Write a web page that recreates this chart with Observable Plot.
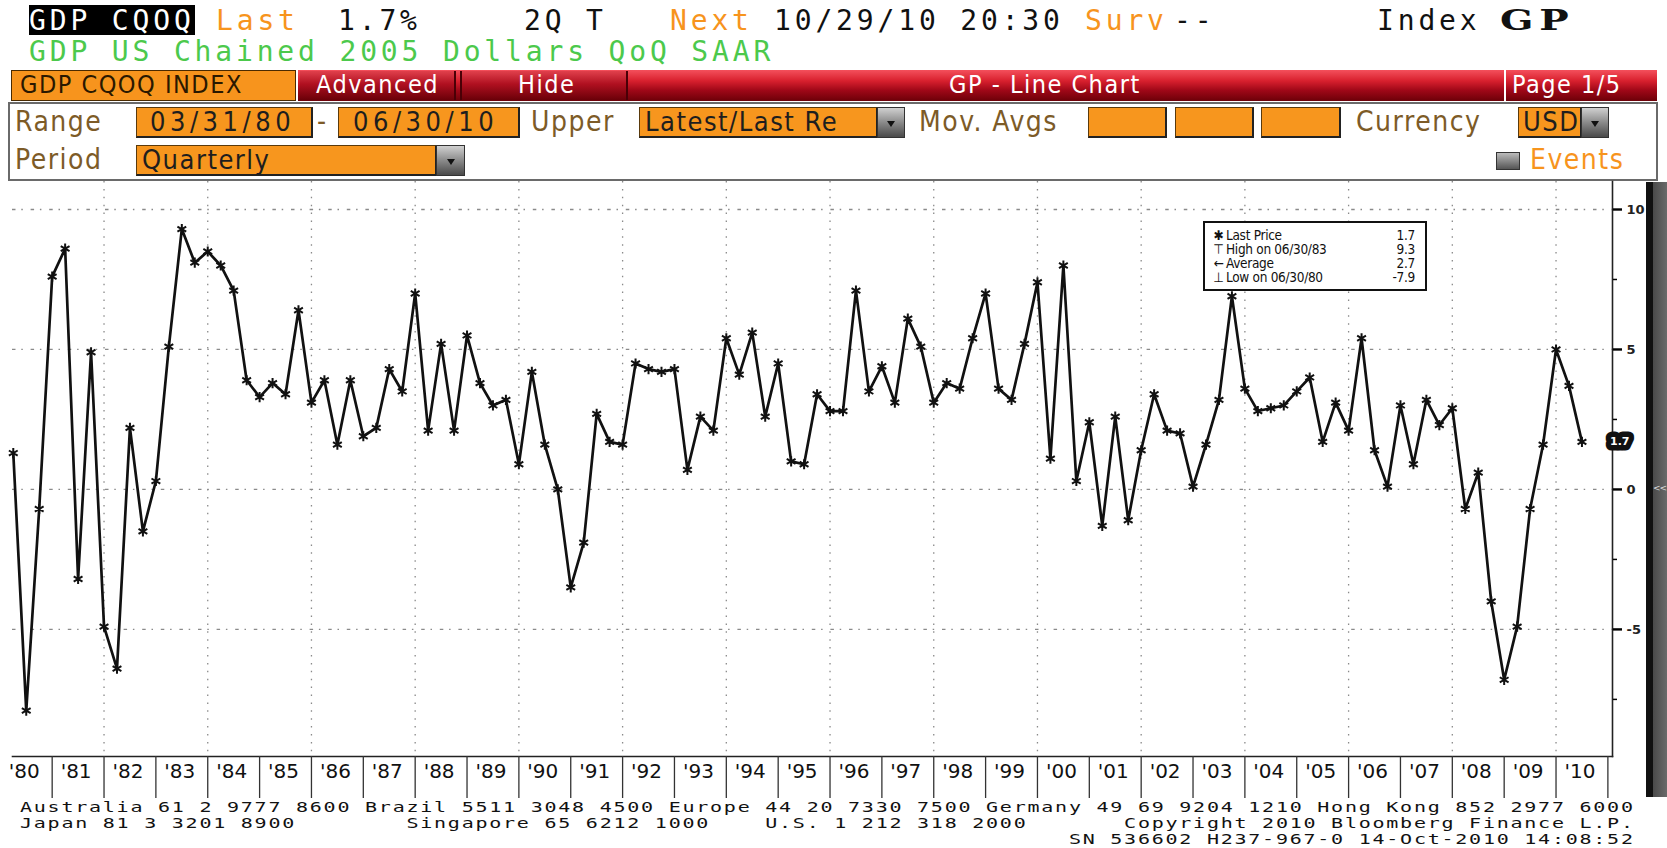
<!DOCTYPE html>
<html><head><meta charset="utf-8">
<script src="https://cdn.jsdelivr.net/npm/d3@7"></script>
<script src="https://cdn.jsdelivr.net/npm/@observablehq/plot@0.6"></script>
<style>
body{margin:0;background:#fff;}
#page{position:relative;width:1667px;height:848px;overflow:hidden;background:#fff;font-family:"DejaVu Sans",sans-serif;}
.a{position:absolute;white-space:pre;}
.mono{font-family:"DejaVu Sans Mono",monospace;font-size:28px;line-height:30px;letter-spacing:3.84px;}
.or{color:#f7941d;}
.lbl{font-family:"DejaVu Sans Condensed","DejaVu Sans",sans-serif;font-size:28px;line-height:30px;letter-spacing:1.5px;color:#7d5b27;}
.box{position:absolute;background:#f7961e;border:1px solid #5a3a0c;border-right:2px solid #222;border-bottom:2px solid #222;box-sizing:border-box;}
.boxt{font-family:"DejaVu Sans Condensed","DejaVu Sans",sans-serif;font-size:27px;line-height:28px;letter-spacing:4.5px;color:#1e1e1e;white-space:pre;position:absolute;top:0px;}
.dd{position:absolute;background:linear-gradient(#d0d0d0,#8a8a8a 50%,#4a4a4a);box-sizing:border-box;border:1px solid #333;}
.dd::after{content:"";position:absolute;left:50%;top:50%;margin-left:-4px;margin-top:-2px;border-left:4px solid transparent;border-right:4px solid transparent;border-top:6px solid #111;}
.bar{font-family:"DejaVu Sans Condensed","DejaVu Sans",sans-serif;font-size:25px;line-height:28px;letter-spacing:1.5px;}
.foot{font-family:"DejaVu Sans Mono",monospace;font-size:20px;line-height:20px;letter-spacing:1.76px;color:#111;transform:scaleY(0.72);transform-origin:0 0;}
#legend{position:absolute;left:1203px;top:221px;width:224px;height:70px;border:2px solid #111;background:#fff;box-sizing:border-box;font-family:"DejaVu Sans Condensed","DejaVu Sans",sans-serif;font-size:13.5px;color:#111;}
#legend .row{position:absolute;left:6px;right:10px;height:14px;line-height:14px;letter-spacing:-0.3px;}
#legend .sym{display:inline-block;width:15px;text-align:center;}
#legend .val{position:absolute;right:0;top:0;}
</style></head><body>
<div id="page">
  <!-- row 1 -->
  <div class="a" style="left:29px;top:5px;width:166px;height:30px;background:#000"></div>
  <div class="a mono" style="left:29px;top:6px;color:#fff">GDP CQOQ</div>
  <div class="a mono or" style="left:216px;top:6px">Last</div>
  <div class="a mono" style="left:338px;top:6px;color:#111">1.7%</div>
  <div class="a mono" style="left:524px;top:6px;color:#111">2Q T</div>
  <div class="a mono or" style="left:670px;top:6px">Next</div>
  <div class="a mono" style="left:774px;top:6px;color:#111">10/29/10 20:30</div>
  <div class="a mono or" style="left:1085px;top:6px">Surv</div>
  <div class="a mono" style="left:1174px;top:6px;color:#111">--</div>
  <div class="a mono" style="left:1377px;top:6px;color:#111">Index</div>
  <div class="a" style="left:1500px;top:6px;font-family:'DejaVu Serif';font-weight:bold;font-size:27px;line-height:30px;letter-spacing:4px;color:#111;transform:scaleX(1.45);transform-origin:0 0">GP</div>
  <!-- row 2 -->
  <div class="a mono" style="left:29px;top:37px;color:#4cc94c">GDP US Chained 2005 Dollars QoQ SAAR</div>
  <!-- row 3 -->
  <div class="a" style="left:11px;top:70px;width:285px;height:31px;background:#f7941d;border:1px solid #4a2a00;box-sizing:border-box"></div>
  <div class="a bar" style="left:20px;top:71px;color:#2a1800">GDP CQOQ INDEX</div>
  <div class="a" style="left:298px;top:70px;width:1359px;height:31px;background:linear-gradient(#f4505c,#d8202e 35%,#a00818 65%,#6c0008)"></div>
  <div class="a" style="left:300px;top:71px;width:156px;height:29px;background:linear-gradient(#e0404c,#b01020 45%,#6a0008);border-right:2px solid #4a0006;box-sizing:border-box"></div>
  <div class="a" style="left:460px;top:71px;width:168px;height:29px;background:linear-gradient(#e0404c,#b01020 45%,#6a0008);border-left:2px solid #4a0006;border-right:2px solid #4a0006;box-sizing:border-box"></div>
  <div class="a bar" style="left:316px;top:71px;color:#fff">Advanced</div>
  <div class="a bar" style="left:518px;top:71px;color:#fff">Hide</div>
  <div class="a bar" style="left:949px;top:71px;color:#fff">GP - Line Chart</div>
  <div class="a" style="left:1504px;top:70px;width:2px;height:31px;background:#fff"></div>
  <div class="a bar" style="left:1512px;top:71px;color:#fff">Page 1/5</div>
  <!-- row 4 panel -->
  <div class="a" style="left:8px;top:102px;width:1650px;height:79px;border:2px solid #6a6a6a;box-sizing:border-box;background:#fff"></div>
  <div class="a lbl" style="left:15px;top:107px">Range</div>
  <div class="box" style="left:136px;top:107px;width:177px;height:31px"><span class="boxt" style="left:13px">03/31/80</span></div>
  <div class="a lbl" style="left:317px;top:107px">-</div>
  <div class="box" style="left:338px;top:107px;width:182px;height:31px"><span class="boxt" style="left:14px">06/30/10</span></div>
  <div class="a lbl" style="left:531px;top:107px">Upper</div>
  <div class="box" style="left:639px;top:107px;width:239px;height:31px"><span class="boxt" style="left:5px;letter-spacing:1.5px">Latest/Last Re</span></div>
  <div class="dd" style="left:877px;top:107px;width:28px;height:31px"></div>
  <div class="a lbl" style="left:919px;top:107px">Mov. Avgs</div>
  <div class="box" style="left:1088px;top:107px;width:79px;height:31px"></div>
  <div class="box" style="left:1175px;top:107px;width:79px;height:31px"></div>
  <div class="box" style="left:1261px;top:107px;width:80px;height:31px"></div>
  <div class="a lbl" style="left:1356px;top:107px">Currency</div>
  <div class="box" style="left:1518px;top:107px;width:64px;height:31px"><span class="boxt" style="left:4px;letter-spacing:1.5px">USD</span></div>
  <div class="dd" style="left:1581px;top:107px;width:28px;height:31px"></div>
  <div class="a lbl" style="left:15px;top:145px">Period</div>
  <div class="box" style="left:136px;top:145px;width:301px;height:31px"><span class="boxt" style="left:5px;letter-spacing:1.5px">Quarterly</span></div>
  <div class="dd" style="left:436px;top:145px;width:29px;height:31px"></div>
  <div class="a" style="left:1496px;top:152px;width:24px;height:18px;background:linear-gradient(#bbb,#555);border:1px solid #333;box-sizing:border-box"></div>
  <div class="a lbl" style="left:1530px;top:145px;color:#f7941d">Events</div>
  <!-- chart -->
  <div id="chart" class="a" style="left:0;top:181px"></div>
  <div id="legend"></div>
  <!-- right bar -->
  <div class="a" style="left:1646px;top:182px;width:7px;height:615px;background:#111"></div>
  <div class="a" style="left:1653px;top:182px;width:14px;height:615px;background:linear-gradient(90deg,#4a4a4a,#6a6a6a)"></div>
  <div class="a" style="left:1653px;top:482px;font-size:9px;line-height:12px;letter-spacing:-1px;color:#ddd;font-family:'DejaVu Sans'">&lt;&lt;</div>
  <!-- footer -->
  <div class="a foot" style="left:20px;top:800px">Australia 61 2 9777 8600 Brazil 5511 3048 4500 Europe 44 20 7330 7500 Germany 49 69 9204 1210 Hong Kong 852 2977 6000</div>
  <div class="a foot" style="left:20px;top:816px">Japan 81 3 3201 8900        Singapore 65 6212 1000    U.S. 1 212 318 2000       Copyright 2010 Bloomberg Finance L.P.</div>
  <div class="a foot" style="left:20px;top:832px">                                                                            SN 536602 H237-967-0 14-Oct-2010 14:08:52</div>
</div>
<script>
// GDP US chained 2005 dollars, QoQ SAAR (%), quarterly 1980Q1 .. 2010Q2
const startYear = 1980;
const gdpQoQ = [
  1.3, -7.9, -0.7, 7.6,   // 1980
  8.6, -3.2, 4.9, -4.9,   // 1981
  -6.4, 2.2, -1.5, 0.3,   // 1982
  5.1, 9.3, 8.1, 8.5,     // 1983
  8.0, 7.1, 3.9, 3.3,     // 1984
  3.8, 3.4, 6.4, 3.1,     // 1985
  3.9, 1.6, 3.9, 1.9,     // 1986
  2.2, 4.3, 3.5, 7.0,     // 1987
  2.1, 5.2, 2.1, 5.5,     // 1988
  3.8, 3.0, 3.2, 0.9,     // 1989
  4.2, 1.6, 0.0, -3.5,    // 1990
  -1.9, 2.7, 1.7, 1.6,    // 1991
  4.5, 4.3, 4.2, 4.3,     // 1992
  0.7, 2.6, 2.1, 5.4,     // 1993
  4.1, 5.6, 2.6, 4.5,     // 1994
  1.0, 0.9, 3.4, 2.8,     // 1995
  2.8, 7.1, 3.5, 4.4,     // 1996
  3.1, 6.1, 5.1, 3.1,     // 1997
  3.8, 3.6, 5.4, 7.0,     // 1998
  3.6, 3.2, 5.2, 7.4,     // 1999
  1.1, 8.0, 0.3, 2.4,     // 2000
  -1.3, 2.6, -1.1, 1.4,   // 2001
  3.4, 2.1, 2.0, 0.1,     // 2002
  1.6, 3.2, 6.9, 3.6,     // 2003
  2.8, 2.9, 3.0, 3.5,     // 2004
  4.0, 1.7, 3.1, 2.1,     // 2005
  5.4, 1.4, 0.1, 3.0,     // 2006
  0.9, 3.2, 2.3, 2.9,     // 2007
  -0.7, 0.6, -4.0, -6.8,  // 2008
  -4.9, -0.7, 1.6, 5.0,   // 2009
  3.7, 1.7                // 2010
];
const quarterEndLabels = ["03/31", "06/30", "09/30", "12/31"];
const yTicks = [-5, 0, 5, 10];
const yMinorTicks = [-7.5, -2.5, 2.5, 7.5];
const gridYears = [1982, 1984, 1986, 1988, 1990, 1992, 1994, 1996, 1998, 2000, 2002, 2004, 2006, 2008, 2010];
const yearLabels = [1980, 1981, 1982, 1983, 1984, 1985, 1986, 1987, 1988, 1989, 1990, 1991, 1992, 1993, 1994, 1995,
  1996, 1997, 1998, 1999, 2000, 2001, 2002, 2003, 2004, 2005, 2006, 2007, 2008, 2009, 2010];
const yearBoundaries = [1981, 1982, 1983, 1984, 1985, 1986, 1987, 1988, 1989, 1990, 1991, 1992, 1993, 1994, 1995, 1996,
  1997, 1998, 1999, 2000, 2001, 2002, 2003, 2004, 2005, 2006, 2007, 2008, 2009, 2010, 2011];
const xDomain = [1980.235, 2011.089];
const yDomain = [-9.54, 11.0];

const data = gdpQoQ.map((v, i) => ({t: startYear + (i + 1) / 4, v, i}));
const last = gdpQoQ[gdpQoQ.length - 1];

const chart = Plot.plot({
  width: 1667, height: 620,
  marginLeft: 12, marginRight: 55, marginTop: 0, marginBottom: 45,
  x: {domain: xDomain, axis: null, label: null},
  y: {domain: yDomain, axis: null, label: null},
  style: {background: "transparent", overflow: "visible", fontFamily: "DejaVu Sans"},
  marks: [
    Plot.ruleY(yTicks, {y: d => d, stroke: "#8a8a8a", strokeWidth: 1.3, strokeDasharray: "3.5,5.8,1.5,7.8"}),
    Plot.ruleX(gridYears, {x: d => d, stroke: "#8a8a8a", strokeWidth: 1.3, strokeDasharray: "1.5,6.4"}),
    Plot.frame({anchor: "bottom", stroke: "#222", strokeWidth: 1.6}),
    Plot.frame({anchor: "right", stroke: "#222", strokeWidth: 1.6}),
    Plot.axisX({ticks: yearBoundaries, anchor: "bottom", tickSize: 42, tickFormat: () => "", label: null, stroke: "#333", strokeWidth: 1.3}),
    Plot.text(yearLabels, {x: d => d + 0.5, frameAnchor: "bottom", dy: 21, dx: -2,
      text: d => "'" + String(d).slice(2), fontSize: 20, fill: "#111", ariaLabel: "year labels"}),
    Plot.axisY({ticks: yTicks, anchor: "right", tickSize: 9, tickPadding: 5, strokeWidth: 2.4, label: null,
      tickFormat: d => String(d), fontSize: 13, fontWeight: "bold", fill: "#222"}),
    Plot.axisY({ticks: yMinorTicks, anchor: "right", tickSize: 4, tickFormat: () => "", label: null, strokeWidth: 1.5}),
    Plot.line(data, {x: "t", y: "v", stroke: "#111", strokeWidth: 2.7}),
    Plot.dot(data, {x: "t", y: "v", symbol: "asterisk", r: 4.8, stroke: "#111", strokeWidth: 2}),
    Plot.dot([last], {y: d => d, frameAnchor: "right", dx: 4, symbol: "triangle", rotate: -90, r: 4, fill: "#111"}),
    Plot.text([last], {y: d => d, frameAnchor: "right", dx: 17, text: d => d.toFixed(1), fill: "#fff",
      stroke: "#111", strokeWidth: 11, strokeLinejoin: "round", fontSize: 11, fontWeight: "bold"})
  ]
});
document.getElementById("chart").appendChild(chart);
d3.select(chart).selectAll("g[aria-label='year labels'] text")
  .attr("textLength", 14).attr("lengthAdjust", "spacingAndGlyphs");

// legend
const iMax = d3.maxIndex(gdpQoQ), iMin = d3.minIndex(gdpQoQ);
const dateOf = i => quarterEndLabels[i % 4] + "/" + String(startYear + Math.floor(i / 4)).slice(2);
const legendRows = [
  {sym: "\u2731", label: "Last Price", value: last.toFixed(1)},
  {sym: "\u22a4", label: "High on " + dateOf(iMax), value: gdpQoQ[iMax].toFixed(1)},
  {sym: "\u2190", label: "Average", value: d3.mean(gdpQoQ).toFixed(1)},
  {sym: "\u22a5", label: "Low on " + dateOf(iMin), value: gdpQoQ[iMin].toFixed(1)}
];
const legend = d3.select("#legend");
legendRows.forEach((r, k) => {
  const row = legend.append("div").attr("class", "row").style("top", (5 + k * 14) + "px");
  row.append("span").attr("class", "sym").text(r.sym);
  row.append("span").text(r.label);
  row.append("span").attr("class", "val").text(r.value);
});
</script>
</body></html>
